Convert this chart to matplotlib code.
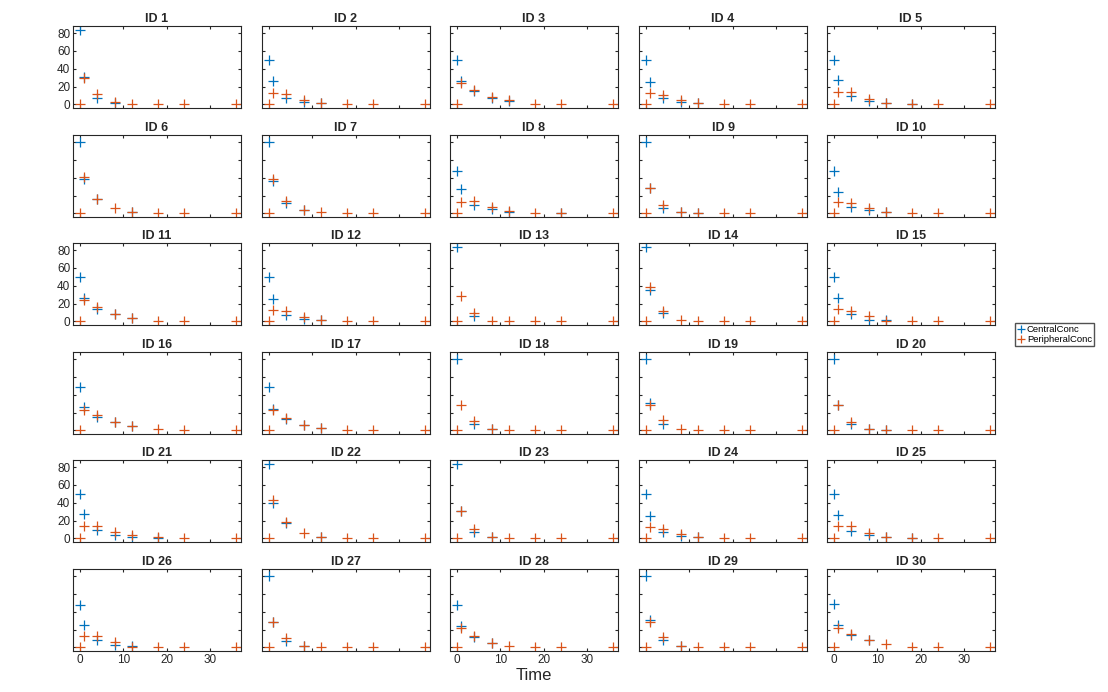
import matplotlib
matplotlib.use("Agg")
import matplotlib.pyplot as plt
import numpy as np

times = [0, 1, 4, 8, 12, 18, 24, 36]
central = {
 1:[83,31,7,2], 2:[50,26,7,3,2], 3:[50,26,15,7,4], 4:[50,25,7,3,2], 5:[50,27,9,4,2,1],
 6:[80,39,16,None,2], 7:[80,36,12,4], 8:[48,27,10,5,2,None,0], 9:[80,29,6,2,1], 10:[48,24,7,4,2],
 11:[50,26,14,8,4], 12:[50,25,7,3,2], 13:[83,None,6], 14:[83,35,10], 15:[50,26,8,2,2],
 16:[49,26,15,9,5], 17:[49,24,13,6,3], 18:[80,None,7,2], 19:[80,31,7], 20:[80,29,7,2,0],
 21:[50,27,10,4,2,1], 22:[83,40,17,None,2], 23:[83,31,7,2], 24:[50,25,7,3,2], 25:[50,26,8,4,2,1],
 26:[48,25,8,3,2], 27:[80,29,7,2], 28:[48,24,12,5], 29:[80,31,8,2], 30:[49,25,14,8],
}
peripheral = {
 1:[0,30,12,3,0,0,0,0], 2:[0,13,12,5,2,0,0,0], 3:[0,24,16,8,5,1,0,0], 4:[0,13,11,5,2,0,0,0],
 5:[0,14,14,6,2,1,0,0], 6:[0,41,16,6,2,1,0,0], 7:[0,39,14,4,2,0,0,0], 8:[0,13,14,7,3,1,1,0],
 9:[0,29,10,2,1,0,0,0], 10:[0,13,12,6,2,1,0,0], 11:[0,24,16,8,4,1,0,0], 12:[0,13,12,5,2,0,0,0],
 13:[0,29,10,1,0,0,0,0], 14:[0,39,12,2,0,0,0,0], 15:[0,14,12,6,1,0,0,0], 16:[0,23,17,9,5,2,1,1],
 17:[0,23,14,6,3,1,1,0], 18:[0,29,11,2,1,0,0,0], 19:[0,29,12,2,1,0,0,0], 20:[0,29,10,2,1,0,0,0],
 21:[0,14,14,7,4,2,0,0], 22:[0,43,19,6,2,0,0,0], 23:[0,31,11,2,0,0,0,0], 24:[0,13,11,5,2,0,0,0],
 25:[0,14,14,6,2,1,0,0], 26:[0,13,13,6,1,0,0,0], 27:[0,29,11,2,0,0,0,0], 28:[0,22,13,5,2,0,0,0],
 29:[0,29,12,2,0,0,0,0], 30:[0,22,15,8,4,1,0,0],
}
blue = '#0072BD'; orange = '#D95319'
W, H = 1108, 692
fig = plt.figure(figsize=(W/100, H/100), dpi=100)
plt.rcParams['font.family'] = 'Liberation Sans'
lefts = [73, 262, 450, 639, 827]
tops = [26, 135, 243, 352, 460, 569]
pw, ph = 168, 82
for i in range(30):
    r, c = divmod(i, 5)
    ax = fig.add_axes([lefts[c]/W, 1-(tops[r]+ph)/H, pw/W, ph/H])
    pid = i+1
    cv = central[pid]
    ct = [t for t, v in zip(times, cv) if v is not None]
    cvv = [v for v in cv if v is not None]
    h1, = ax.plot(ct, cvv, '+', color=blue, ms=7, mew=0.9)
    h2, = ax.plot(times, peripheral[pid], '+', color=orange, ms=7, mew=0.9)
    ax.set_xlim(-1.6, 37.2); ax.set_ylim(-4, 88)
    ax.set_xticks([0, 10, 20, 30]); ax.set_yticks([0, 20, 40, 60, 80])
    ax.tick_params(direction='in', length=2, top=True, right=True, labelsize=8.5, pad=2, colors='#262626')
    if not (c == 0 and r % 2 == 0):
        ax.set_yticklabels([])
    if not (r == 5 and c % 2 == 0):
        ax.set_xticklabels([])
    for s in ax.spines.values():
        s.set_color('#262626'); s.set_linewidth(0.8)
    ax.set_title(f'ID {pid}', fontsize=9, fontweight='bold', pad=3, color='#262626')
fig.legend([h1, h2], ['CentralConc', 'PeripheralConc'], loc='upper left',
           bbox_to_anchor=(1015/W, 1-323/H), fontsize=6.8, frameon=True, fancybox=False,
           edgecolor='#262626', handlelength=0.7, handletextpad=0.3, borderpad=0.25,
           labelspacing=0.05, markerscale=0.8, borderaxespad=0)
fig.text(534/W, 1-676/H, 'Time', ha='center', va='center', fontsize=12, color='#262626')
fig.savefig('out.png', dpi=100)
